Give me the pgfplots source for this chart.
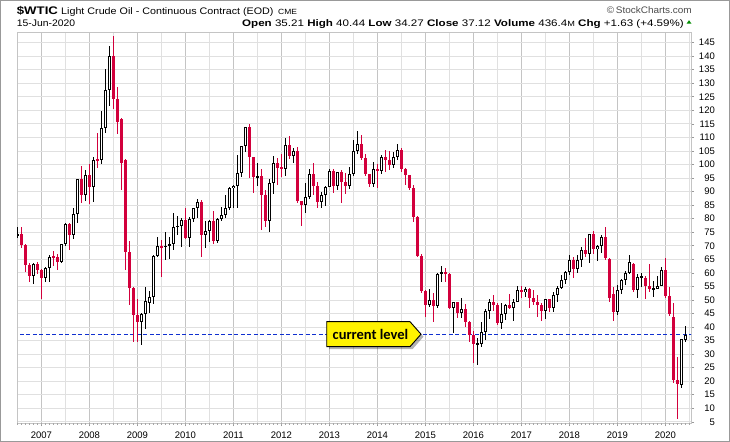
\documentclass[border=0pt]{standalone}
\usepackage{fontspec}
\setmainfont{Liberation Sans}
\newfontfamily\calib{Carlito}
\usepackage{pgfplots}
\usepackage{pgfplotstable}
\pgfplotsset{compat=1.18}
\definecolor{cred}{HTML}{D2003C}
\definecolor{gridyr}{HTML}{C4C4C4}
\definecolor{gridlt}{HTML}{E0E0E0}
\definecolor{lvl}{HTML}{1030D0}
\pgfplotstableread{
i o h l c
-6 73.9 77.0 72.7 74.4
-5 74.4 77.0 69.0 70.3
-4 70.3 70.6 60.5 62.8
-3 62.8 63.6 56.6 58.7
-2 58.7 63.6 55.8 63.1
-1 63.1 64.0 59.7 61.0
0 61.0 61.4 50.5 58.1
1 58.1 62.2 56.7 61.8
2 61.8 66.7 56.6 65.9
3 65.9 68.1 62.7 65.7
4 65.7 66.9 60.9 64.0
5 64.0 70.6 63.5 70.7
6 70.7 78.3 69.9 78.2
7 78.2 78.5 68.6 74.0
8 74.0 83.9 72.6 81.7
9 81.7 94.7 78.4 94.5
10 94.5 99.3 85.9 88.7
11 88.7 97.9 86.5 96.0
12 96.0 100.1 85.4 91.7
13 91.7 102.6 86.1 101.8
14 101.8 111.8 98.7 101.6
15 101.6 119.9 100.0 113.5
16 113.5 135.1 111.5 127.4
17 127.4 143.7 121.4 140.0
18 140.0 147.3 120.4 124.1
19 124.1 128.6 111.3 115.5
20 116.7 117.0 90.5 100.6
21 101.7 102.0 61.0 67.8
22 67.8 71.8 48.2 54.4
23 54.4 54.6 34.6 44.6
24 44.6 50.2 34.6 41.7
25 41.7 45.1 33.5 44.8
26 44.8 54.7 39.3 49.7
27 49.0 53.3 45.3 51.1
28 51.1 66.5 48.4 66.3
29 66.3 73.4 65.7 69.9
30 69.9 72.0 58.3 69.5
31 69.5 75.0 64.8 70.0
32 70.0 73.4 65.1 70.6
33 70.6 82.0 68.5 77.0
34 77.0 81.0 74.0 77.3
35 77.3 80.2 69.5 79.4
36 79.4 84.0 72.4 72.9
37 72.9 80.7 69.5 79.7
38 79.7 84.1 78.9 83.8
39 83.8 87.1 80.1 86.2
40 86.2 87.0 65.8 74.0
41 74.0 79.1 69.1 75.6
42 75.6 79.5 71.5 79.0
43 79.0 82.9 70.8 71.9
44 71.9 80.1 71.0 80.0
45 80.0 84.3 79.0 81.4
46 81.4 88.6 80.3 84.1
47 84.1 91.8 83.3 91.4
48 91.4 92.6 83.8 92.2
49 92.2 103.4 84.1 97.0
50 97.0 106.9 95.5 106.7
51 106.7 114.0 104.6 113.9
52 113.9 114.8 95.0 102.7
53 102.7 102.7 89.6 95.4
54 95.4 100.6 92.0 95.7
55 95.7 98.2 75.7 88.8
56 88.8 90.5 77.1 79.2
57 79.2 94.7 75.0 93.2
58 93.2 103.2 89.2 100.4
59 100.4 102.4 92.5 98.8
60 98.8 103.7 95.4 98.5
61 98.5 109.8 95.7 107.1
62 107.1 110.6 102.1 103.0
63 103.0 106.1 100.7 104.9
64 104.9 106.4 85.7 86.5
65 86.5 86.6 77.3 85.0
66 85.0 93.0 82.0 88.1
67 88.1 98.3 87.3 96.5
68 96.5 100.4 88.8 92.2
69 92.2 93.7 84.1 86.2
70 86.2 89.9 84.1 88.9
71 88.9 91.9 84.8 91.8
72 91.8 98.2 91.8 97.5
73 97.5 98.2 89.3 92.1
74 92.1 97.4 90.5 97.2
75 97.2 97.8 85.6 93.5
76 93.5 97.0 89.2 92.0
77 92.0 99.2 91.1 96.6
78 96.6 108.9 95.9 105.0
79 105.0 112.2 104.0 107.7
80 107.7 110.7 101.6 102.3
81 102.3 104.0 95.8 96.4
82 96.4 96.6 91.8 92.7
83 92.7 100.8 91.8 98.4
84 98.4 100.0 91.2 97.5
85 97.5 103.5 96.4 102.6
86 102.6 105.2 97.4 101.6
87 101.6 105.0 98.0 99.7
88 99.7 104.5 98.6 102.7
89 102.7 107.7 101.6 105.4
90 105.4 106.0 97.2 98.2
91 98.2 98.7 92.5 96.0
92 96.0 96.3 90.4 91.2
93 91.2 92.5 78.9 80.5
94 80.5 81.0 65.7 66.2
95 66.2 67.0 52.7 53.3
96 53.3 53.6 43.6 48.2
97 48.2 54.2 47.3 49.8
98 49.8 52.5 42.0 47.6
99 47.6 59.9 47.1 59.6
100 59.6 62.6 56.5 60.3
101 60.3 61.8 56.5 59.5
102 59.5 59.8 46.7 47.1
103 47.1 49.3 37.8 49.2
104 49.2 49.4 43.2 45.1
105 45.1 50.9 43.5 46.6
106 46.6 48.4 39.9 41.7
107 41.7 42.1 34.5 37.0
108 37.0 38.4 26.6 33.6
109 33.6 36.0 26.0 33.8
110 33.8 41.9 32.7 38.3
111 38.3 46.8 35.2 45.9
112 45.9 50.2 43.0 49.1
113 49.1 51.7 45.8 48.3
114 48.3 49.0 40.6 41.6
115 41.6 48.8 39.2 44.7
116 44.7 48.5 42.5 48.2
117 48.2 52.2 46.6 46.9
118 46.9 50.2 42.2 49.4
119 49.4 55.2 49.1 53.7
120 53.7 55.2 50.7 52.8
121 52.8 54.9 51.2 54.0
122 54.0 54.5 47.1 50.6
123 50.6 53.8 48.2 49.3
124 49.3 52.0 43.8 48.3
125 48.3 48.9 42.1 46.0
126 46.0 50.4 42.9 50.2
127 50.2 50.5 45.6 47.2
128 47.2 52.9 45.6 51.7
129 51.7 55.2 49.1 54.4
130 54.4 59.1 54.2 57.4
131 57.4 60.5 55.8 60.4
132 60.4 66.7 59.1 64.7
133 64.7 66.0 58.1 61.6
134 61.6 66.6 59.9 64.9
135 64.9 69.6 62.0 68.6
136 68.6 72.9 65.8 67.0
137 67.0 74.5 63.6 74.2
138 74.2 75.3 66.9 68.8
139 68.8 70.4 64.4 69.8
140 69.8 74.0 67.5 73.3
141 73.3 76.9 64.9 65.3
142 65.0 65.5 49.4 50.9
143 52.1 54.6 42.4 45.4
144 45.4 55.4 44.4 53.8
145 53.8 57.8 52.1 57.2
146 57.2 60.7 55.4 60.1
147 60.1 66.6 59.7 63.9
148 63.3 63.8 53.0 53.5
149 53.5 59.5 50.6 58.5
150 58.5 60.0 54.7 58.6
151 58.0 58.8 50.5 55.1
152 55.1 63.4 52.8 54.1
153 54.1 56.9 51.0 54.2
154 54.2 58.8 54.0 55.2
155 55.2 62.3 55.0 61.1
156 61.1 65.6 50.6 51.6
157 51.6 54.7 44.0 44.8
158 43.6 48.7 19.3 20.5
159 20.3 29.0 6.2 18.8
160 18.6 35.6 17.6 35.5
161 35.2 40.4 34.3 37.1
}\wtic
\pgfplotsset{
 candle/.style={draw=none, mark=none, forget plot,
   error bars/.cd, y dir=both, y explicit, error mark=none,
   error bar style={#1}},
}
\begin{document}
\begin{tikzpicture}[x=1bp,y=1bp]
\useasboundingbox (0,0) rectangle (730,442);
\begin{axis}[
  at={(17bp,18.5bp)}, anchor=south west,
  scale only axis, width=674bp, height=391.5bp,
  xmin=-6.08, xmax=162.4, ymin=4.4, ymax=148.9,
  axis line style={draw=gridyr, line width=0.8bp},
  xtick={0,12,...,156},
  xticklabels={2007,2008,2009,2010,2011,2012,2013,2014,2015,2016,2017,2018,2019,2020},
  minor xtick={6,18,...,162},
  ytick={5,10,...,145},
  yticklabel pos=right, ytick pos=right, xtick pos=left,
  tick align=outside,
  major tick length=3bp, minor tick length=0bp,
  tick style={draw=gray!80, line width=0.6bp},
  xmajorgrids, xminorgrids, ymajorgrids,
  major x grid style={draw=gridyr, line width=0.8bp},
  minor x grid style={draw=gridlt, line width=0.8bp},
  major y grid style={draw=gridlt, line width=0.8bp},
  extra x ticks={-6,-5,...,162},
  extra x tick labels={},
  extra x tick style={grid=none, major tick length=1.5bp, tick style={draw=gray!70, line width=0.5bp}},
  /pgf/number format/assume math mode=true,
  ticklabel style={font=\fontsize{9.5bp}{11bp}\selectfont, inner sep=0pt},
  yticklabel style={anchor=east, xshift=21bp},
  xticklabel style={anchor=base, yshift=-12.5bp},
  clip=true,
]
\addplot[draw=lvl, line width=0.8bp, dash pattern=on 4bp off 2.5bp, forget plot]
  coordinates {(-7,37.12) (163,37.12)};
% wicks (down: red, up: black)
\addplot[candle={draw=cred, line width=1bp}]
  table[x=i, y expr={(\thisrow{h}+\thisrow{l})/2},
        y error expr={\thisrow{c}<\thisrow{o} ? (\thisrow{h}-\thisrow{l})/2 : 0}] {\wtic};
\addplot[candle={draw=black, line width=1bp}]
  table[x=i, y expr={(\thisrow{h}+\thisrow{l})/2},
        y error expr={\thisrow{c}<\thisrow{o} ? 0 : (\thisrow{h}-\thisrow{l})/2}] {\wtic};
% bodies
\addplot[candle={draw=cred, line width=3.5bp}]
  table[x=i, y expr={(\thisrow{o}+\thisrow{c})/2},
        y error expr={\thisrow{c}<\thisrow{o} ? max((\thisrow{o}-\thisrow{c})/2,0.25) : 0}] {\wtic};
\addplot[candle={draw=black, line width=3.6bp}]
  table[x=i, y expr={(\thisrow{o}+\thisrow{c})/2},
        y error expr={\thisrow{c}<\thisrow{o} ? 0 : max((\thisrow{c}-\thisrow{o})/2,0.25)}] {\wtic};
\addplot[candle={draw=white, line width=1.6bp}]
  table[x=i, y expr={(\thisrow{o}+\thisrow{c})/2},
        y error expr={\thisrow{c}<\thisrow{o} ? 0 : max((\thisrow{c}-\thisrow{o})/2-0.37,0)}] {\wtic};
\end{axis}
% callout
\fill[black, opacity=0.3] (329.2,92.8) -- (412.5,92.8) -- (423.5,105.3) -- (412.5,117.8) -- (329.2,117.8) -- cycle;
\draw[fill=yellow, draw=black, line width=0.9bp] (326.7,95.3) -- (410,95.3) -- (421,107.8) -- (410,120.3) -- (326.7,120.3) -- cycle;
\node[anchor=base, inner sep=0pt] at (370.5,102.5) {\calib\bfseries\fontsize{14.5bp}{16bp}\selectfont current level};
% header
\node[anchor=base west, inner sep=0pt] at (16.7,427.3) {\scalebox{1.2}[1]{\fontsize{11bp}{13bp}\selectfont\bfseries \$WTIC}};
\node[anchor=base west, inner sep=0pt] at (61,427.3) {\scalebox{1.13}[1]{\fontsize{9.5bp}{11bp}\selectfont Light Crude Oil - Continuous Contract (EOD)}};
\node[anchor=base west, inner sep=0pt] at (278,427.3) {\scalebox{1.13}[1]{\fontsize{7.5bp}{9bp}\selectfont CME}};
\node[anchor=base east, inner sep=0pt, text=black!70] at (692,428) {\scalebox{1.05}[1]{\fontsize{9.5bp}{11bp}\selectfont\textcopyright\,StockCharts.com}};
\node[anchor=base west, inner sep=0pt] at (16.7,415.3) {\scalebox{1.09}[1]{\fontsize{9.5bp}{11bp}\selectfont 15-Jun-2020}};
\node[anchor=base east, inner sep=0pt] at (684,415.3) {\scalebox{1.22}[1]{\fontsize{9.5bp}{11bp}\selectfont \textbf{Open} 35.21 \textbf{High} 40.44 \textbf{Low} 34.27 \textbf{Close} 37.12 \textbf{Volume} 436.4{\fontsize{7.5bp}{9bp}\selectfont M} \textbf{Chg} +1.63 (+4.59\%)}};
\fill[green!55!black] (686.5,418.3) -- (691.5,418.3) -- (689,421.8) -- cycle;
\draw[gray!80, line width=1bp] (0.5,0.5) rectangle (729.5,441.5);
\end{tikzpicture}
\end{document}
